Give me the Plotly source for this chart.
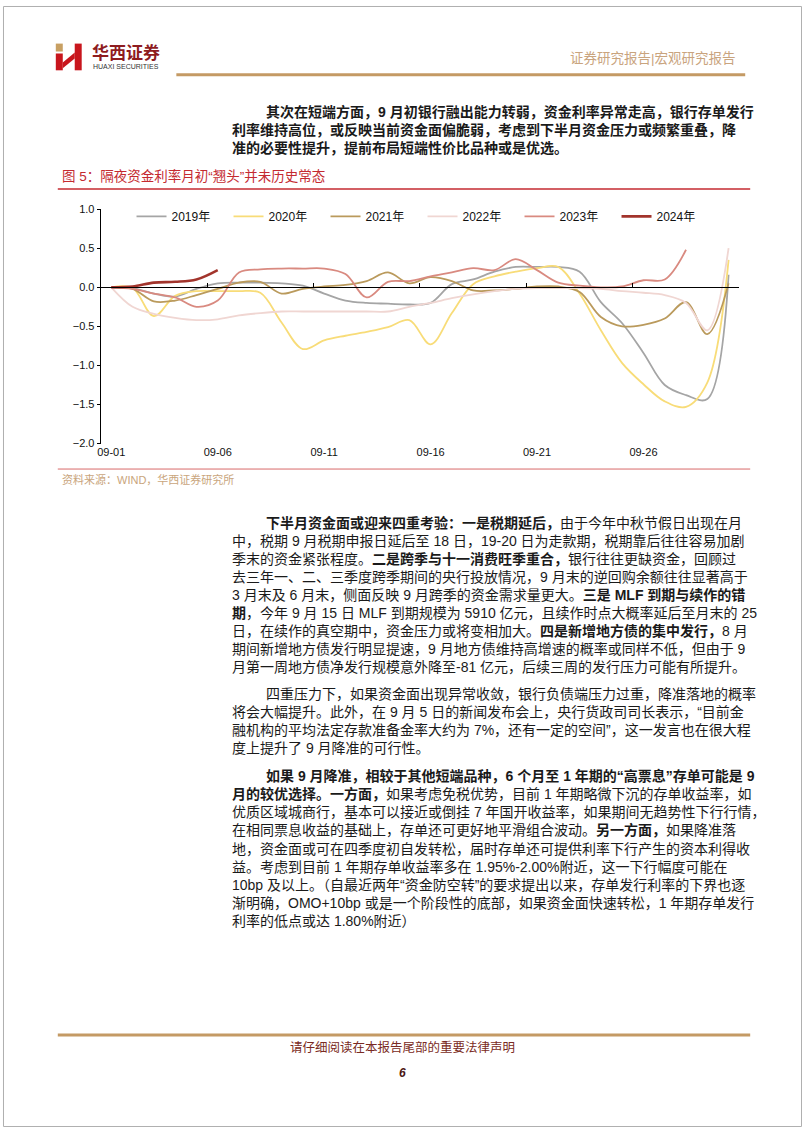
import plotly.graph_objects as go

W, H = 802, 1133

# 隔夜资金利率（相对9月1日的变化）
days = ["09-01", "09-02", "09-03", "09-04", "09-05", "09-06", "09-07", "09-08", "09-09", "09-10",
        "09-11", "09-12", "09-13", "09-14", "09-15", "09-16", "09-17", "09-18", "09-19", "09-20",
        "09-21", "09-22", "09-23", "09-24", "09-25", "09-26", "09-27", "09-28", "09-29", "09-30"]

y2019 = [0, -0.01, -0.08, -0.12, -0.02, 0.05, 0.06, 0.06, 0.05, 0.02,
         -0.08, -0.17, -0.2, -0.21, -0.22, -0.2, 0.04, 0.1, 0.2, 0.26,
         0.26, 0.26, 0.2, -0.19, -0.46, -0.84, -1.25, -1.38, -1.43, 0.16]
y2020 = [0, -0.01, -0.37, -0.11, -0.05, -0.05, -0.05, -0.07, -0.45, -0.79,
         -0.68, -0.62, -0.57, -0.51, -0.42, -0.73, -0.33, 0.04, 0.14, 0.2,
         0.245, 0.26, -0.08, -0.55, -0.97, -1.24, -1.46, -1.53, -1.22, 0.35]
y2021 = [0, -0.02, -0.18, -0.17, -0.1, -0.02, 0.06, 0.07, -0.08, -0.02,
         0.01, 0.03, 0.08, 0.19, 0.05, 0.13, 0.08, -0.04, -0.04, -0.02,
         0.01, 0.01, -0.06, -0.38, -0.5, -0.48, -0.4, -0.19, -0.6, 0.05]
y2022 = [0, -0.25, -0.34, -0.39, -0.42, -0.41, -0.36, -0.33, -0.31, -0.31,
         -0.31, -0.31, -0.31, -0.31, -0.25, -0.2, -0.14, -0.09, -0.05, -0.02,
         -0.01, -0.01, -0.01, -0.02, -0.05, -0.07, -0.1, -0.2, -0.55, 0.5]
y2023 = [0, -0.02, -0.08, -0.13, -0.25, -0.17, 0.19, 0.23, 0.24, 0.24,
         0.24, 0.17, -0.13, 0.07, 0.08, 0.14, 0.19, 0.245, 0.22, 0.36,
         0.22, 0.06, 0.02, 0.0, 0.01, 0.09, 0.1, 0.48]
y2024 = [0, 0.01, 0.06, 0.07, 0.1, 0.22]

series = [
    ("2019年", y2019, "#A5A5A5", 1.8),
    ("2020年", y2020, "#F8DC78", 1.8),
    ("2021年", y2021, "#BA9A5C", 1.8),
    ("2022年", y2022, "#F0D6D2", 1.8),
    ("2023年", y2023, "#D98A80", 1.8),
    ("2024年", y2024, "#A2342C", 2.6),
]

yticks = [-2.0, -1.5, -1.0, -0.5, 0.0, 0.5, 1.0]

# 正文
para1 = [
    "其次在短端方面，9 月初银行融出能力转弱，资金利率异常走高，银行存单发行",
    "利率维持高位，或反映当前资金面偏脆弱，考虑到下半月资金压力或频繁重叠，降",
    "准的必要性提升，提前布局短端性价比品种或是优选。",
]
para2 = [
    "<b>下半月资金面或迎来四重考验：一是税期延后，</b>由于今年中秋节假日出现在月",
    "中，税期 9 月税期申报日延后至 18 日，19-20 日为走款期，税期靠后往往容易加剧",
    "季末的资金紧张程度。<b>二是跨季与十一消费旺季重合，</b>银行往往更缺资金，回顾过",
    "去三年一、二、三季度跨季期间的央行投放情况，9 月末的逆回购余额往往显著高于",
    "3 月末及 6 月末，侧面反映 9 月跨季的资金需求量更大。<b>三是 MLF 到期与续作的错</b>",
    "<b>期</b>，今年 9 月 15 日 MLF 到期规模为 5910 亿元，且续作时点大概率延后至月末的 25",
    "日，在续作的真空期中，资金压力或将变相加大。<b>四是新增地方债的集中发行，</b>8 月",
    "期间新增地方债发行明显提速，9 月地方债维持高增速的概率或同样不低，但由于 9",
    "月第一周地方债净发行规模意外降至-81 亿元，后续三周的发行压力可能有所提升。",
]
para3 = [
    "四重压力下，如果资金面出现异常收敛，银行负债端压力过重，降准落地的概率",
    "将会大幅提升。此外，在 9 月 5 日的新闻发布会上，央行货政司司长表示，“目前金",
    "融机构的平均法定存款准备金率大约为 7%，还有一定的空间”，这一发言也在很大程",
    "度上提升了 9 月降准的可行性。",
]
para4 = [
    "<b>如果 9 月降准，相较于其他短端品种，6 个月至 1 年期的“高票息”存单可能是 9</b>",
    "<b>月的较优选择。一方面，</b>如果考虑免税优势，目前 1 年期略微下沉的存单收益率，如",
    "优质区域城商行，基本可以接近或倒挂 7 年国开收益率，如果期间无趋势性下行行情，",
    "在相同票息收益的基础上，存单还可更好地平滑组合波动。<b>另一方面，</b>如果降准落",
    "地，资金面或可在四季度初自发转松，届时存单还可提供利率下行产生的资本利得收",
    "益。考虑到目前 1 年期存单收益率多在 1.95%-2.00%附近，这一下行幅度可能在",
    "10bp 及以上。（自最近两年“资金防空转”的要求提出以来，存单发行利率的下界也逐",
    "渐明确，OMO+10bp 或是一个阶段性的底部，如果资金面快速转松，1 年期存单发行",
    "利率的低点或达 1.80%附近）",
]

FONT = "Liberation Sans, Noto Sans CJK SC, sans-serif"


def px(x):
    return x / W


def py(y):
    return 1 - y / H


fig = go.Figure()
for name, vals, color, width in series:
    fig.add_trace(go.Scatter(
        x=days[:len(vals)], y=vals, name=name, mode="lines",
        line=dict(color=color, width=width, shape="spline", smoothing=1.0),
    ))
# 零轴上的刻度
fig.add_trace(go.Scatter(x=days, y=[None] * len(days), xaxis="x2", showlegend=False,
                         hoverinfo="skip"))

y_bot, y_top = py(442.3), py(205.3)
zero_pos = y_bot + (0 - yticks[0]) / (yticks[-1] - yticks[0]) * (y_top - y_bot)

annotations = []


def add_text(x, y, text, size=14, color="#1a1a1a", anchor="left", bold=False):
    if bold:
        text = "<b>" + text + "</b>"
    annotations.append(dict(
        x=px(x), y=py(y), xref="paper", yref="paper", text=text, showarrow=False,
        xanchor=anchor, yanchor="middle", font=dict(family=FONT, size=size, color=color),
    ))


# 页眉
add_text(87, 47, "华西证券", size=17, color="#8E1C1F", bold=True)
add_text(88, 61, "HUAXI SECURITIES", size=7, color="#333333")
add_text(738, 53, "证券研究报告|宏观研究报告", size=13.5, color="#C9A47E", anchor="right")

for i, line in enumerate(para1):
    add_text(262 if i == 0 else 228, 107 + 18.2 * i, line, bold=True)

add_text(57, 172, "图 5：隔夜资金利率月初“翘头”并未历史常态", size=13.5, color="#C42A30")
add_text(57, 479, "资料来源：WIND，华西证券研究所", size=11, color="#C9A57C")

for i, line in enumerate(para2):
    add_text(262 if i == 0 else 228, 523 + 18.15 * i, line)
for i, line in enumerate(para3):
    add_text(262 if i == 0 else 228, 695 + 18.4 * i, line)
for i, line in enumerate(para4):
    add_text(262 if i == 0 else 228, 778 + 18.4 * i, line)

# 页脚
add_text(401, 1053, "请仔细阅读在本报告尾部的重要法律声明", size=12.5, color="#7A2A22", anchor="center")
add_text(401, 1078, "<i>6</i>", size=12, color="#4a1410", anchor="center", bold=True)

shapes = [
    dict(type="rect", xref="paper", yref="paper", x0=px(0.5), x1=px(801.5), y0=py(0.5), y1=py(1132.5),
         line=dict(color="#B0B0B0", width=1)),
    # logo
    dict(type="rect", xref="paper", yref="paper", x0=px(53), x1=px(60), y0=py(38), y1=py(46),
         fillcolor="#C8A063", line=dict(width=0)),
    dict(type="rect", xref="paper", yref="paper", x0=px(53), x1=px(60), y0=py(48), y1=py(65),
         fillcolor="#C8161D", line=dict(width=0)),
    dict(type="rect", xref="paper", yref="paper", x0=px(72), x1=px(79), y0=py(38), y1=py(65),
         fillcolor="#C8161D", line=dict(width=0)),
    dict(type="path", xref="paper", yref="paper",
         path=f"M {px(60)} {py(57)} L {px(72)} {py(47)} L {px(72)} {py(53)} L {px(60)} {py(63)} Z",
         fillcolor="#C8161D", line=dict(width=0)),
    dict(type="line", xref="paper", yref="paper", x0=px(174), x1=px(745), y0=py(69.5), y1=py(69.5),
         line=dict(color="#C49A64", width=3)),
    dict(type="line", xref="paper", yref="paper", x0=px(55), x1=px(750), y0=py(185), y1=py(185),
         line=dict(color="#C42A30", width=1.5)),
    dict(type="line", xref="paper", yref="paper", x0=px(55), x1=px(750), y0=py(468), y1=py(468),
         line=dict(color="#D86A6A", width=1)),
    dict(type="line", xref="paper", yref="paper", x0=px(55), x1=px(750), y0=py(1040), y1=py(1040),
         line=dict(color="#C49A64", width=3)),
]

fig.update_layout(
    width=W, height=H,
    margin=dict(l=0, r=0, t=0, b=0),
    paper_bgcolor="white", plot_bgcolor="white",
    font=dict(family=FONT, size=11, color="#111111"),
    showlegend=True,
    legend=dict(orientation="h", x=px(129), y=py(198), xanchor="left", yanchor="top",
                font=dict(family=FONT, size=12, color="#111111"),
                entrywidth=52, entrywidthmode="pixels", bgcolor="rgba(0,0,0,0)"),
    xaxis=dict(domain=[px(98), px(739)], type="category", categoryorder="array", categoryarray=days,
               range=[-0.5, 29.5], dtick=5, showline=False, ticks="", showgrid=False,
               tickfont=dict(family=FONT, size=11, color="#111111"), fixedrange=True),
    xaxis2=dict(domain=[px(98), px(739)], overlaying="x", matches="x", anchor="free",
                position=zero_pos, type="category", showline=True, linecolor="#000000",
                linewidth=1, ticks="inside", ticklen=4, tickcolor="#000000",
                tickson="boundaries", dtick=5, showticklabels=False, showgrid=False),
    yaxis=dict(domain=[y_bot, y_top], range=[yticks[0], yticks[-1]], tickvals=yticks,
               tickformat=".1f", showline=True, linecolor="#000000", linewidth=1,
               ticks="outside", ticklen=3, tickcolor="#000000", showgrid=False,
               zeroline=False, tickfont=dict(family=FONT, size=11, color="#111111")),
    annotations=annotations,
    shapes=shapes,
)

fig.write_html("out.html", config={"displayModeBar": False},
               post_script="document.body.style.margin='0';document.body.style.overflow='hidden';")
